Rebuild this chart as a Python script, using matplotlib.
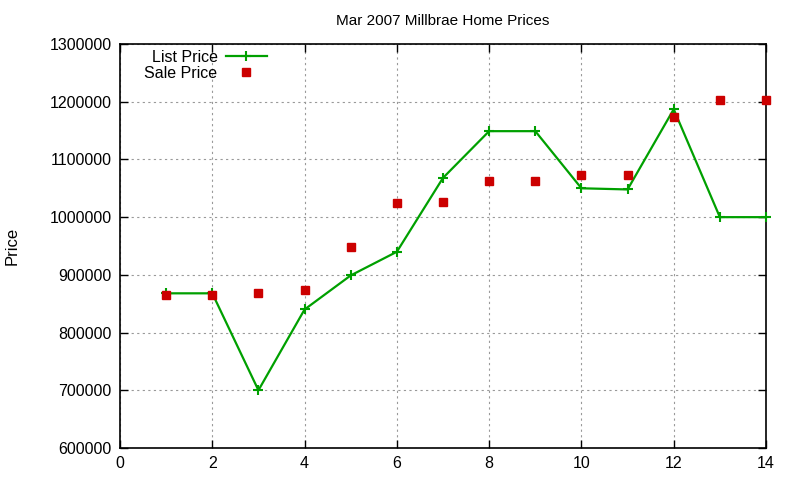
import numpy as np
import matplotlib
matplotlib.use("Agg")
import matplotlib.pyplot as plt

plt.rcParams["font.family"] = ["Liberation Sans", "DejaVu Sans"]

# data (gnuplot-style chart)
house = [1, 2, 3, 4, 5, 6, 7, 8, 9, 10, 11, 12, 13, 14]
list_price = [868000, 868000, 700000, 840000, 899000, 940000, 1068000,
              1149000, 1149000, 1050000, 1048000, 1187000, 1000000, 1000000]
sale_price = [865000, 865000, 869000, 874000, 949000, 1024000, 1027000,
              1063000, 1063000, 1073000, 1073000, 1174000, 1203000, 1203000]

GREEN = "#00a000"
RED = "#cc0000"

fig = plt.figure(figsize=(8, 4.8), dpi=100)
ax = fig.add_axes([0.15, 0.0667, 0.8075, 0.8416])

ax.plot(house, list_price, color=GREEN, linewidth=1.6, marker="+",
        markersize=7, markeredgewidth=1.5, label="List Price", zorder=3,
        clip_on=False)
ax.plot(house, sale_price, linestyle="none", marker="s", color=RED,
        markersize=6, label="Sale Price", zorder=4, clip_on=False)

ax.set_xlim(0, 14)
ax.set_ylim(600000, 1300000)
ax.set_xticks(np.arange(0, 15, 2))
ax.set_yticks(np.arange(600000, 1300001, 100000))
ax.set_yticklabels([str(v) for v in range(600000, 1300001, 100000)])

ax.grid(True, color="#999999", linestyle=(0, (2, 3)), linewidth=0.8)
ax.tick_params(direction="in", length=6, width=1, top=True, right=True,
               labelsize=11.5, pad=6)
for sp in ax.spines.values():
    sp.set_linewidth(1.2)

ax.set_title("Mar 2007 Millbrae Home Prices", fontsize=11, pad=14)
ax.set_ylabel("Price", fontsize=12)
ax.yaxis.set_label_coords(-0.155, 0.5)

leg = ax.legend(loc="upper right", frameon=False, markerfirst=False,
                handlelength=2.6, handletextpad=0.5, labelspacing=0.05,
                fontsize=11.5, borderpad=0, borderaxespad=0,
                bbox_to_anchor=(0.2276, 0.985))

fig.savefig("out.png", dpi=100)
